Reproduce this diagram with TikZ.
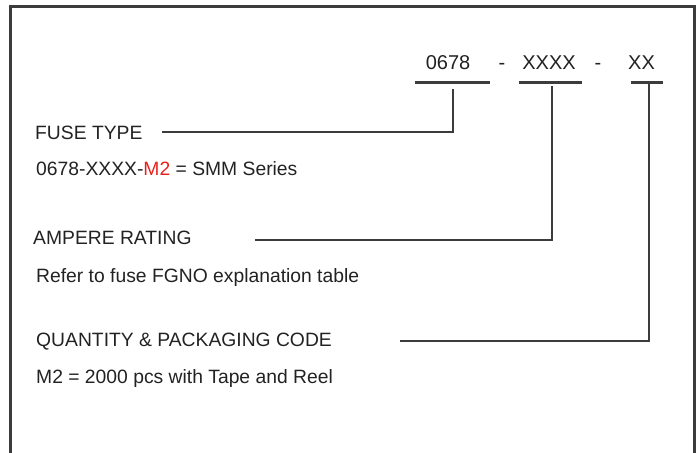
\documentclass[tikz,border=0pt]{standalone}
\usepackage{fontspec}
\setmainfont{Liberation Sans}
\definecolor{ink}{HTML}{222222}
\definecolor{linec}{HTML}{3C3C3C}
\definecolor{redm}{HTML}{E8231E}
\begin{document}
\begin{tikzpicture}[x=1pt,y=-1pt,
  txt/.style={anchor=base west, inner sep=0pt, font=\fontsize{19.3}{23}\selectfont, text=ink},
  hdr/.style={anchor=base, inner sep=0pt, font=\fontsize{20}{24}\selectfont, text=ink},
  bar/.style={line width=2.2pt, draw=linec},
  lead/.style={line width=2pt, draw=linec},
  frame/.style={line width=3pt, draw=linec}]
\useasboundingbox (0,0) rectangle (700,452);
\draw[frame] (10.5,470) -- (10.5,7) -- (694,7) -- (694,470);

% header
\node[hdr] (h1) at (448,69) {0678};
\node[hdr] (d1) at (502,69) {-};
\node[hdr] (h2) at (549,69) {XXXX};
\node[hdr] (d2) at (598,69) {-};
\node[hdr] (h3) at (641.5,69) {XX};

% bars
\coordinate (b1l) at (415,82.5);  \coordinate (b1r) at (490,82.5);
\coordinate (b2l) at (519,82.5);  \coordinate (b2r) at (582,82.5);
\coordinate (b3l) at (631,82.5);  \coordinate (b3r) at (663,82.5);
\draw[bar] (b1l) -- (b1r);
\draw[bar] (b2l) -- (b2r);
\draw[bar] (b3l) -- (b3r);

% labels
\node[txt] (ft) at (35,139) {FUSE TYPE};
\node[txt] (fts) at (36,175.7) {0678-XXXX-\textcolor{redm}{M2} = SMM Series};
\node[txt] (ar) at (33,244) {AMPERE RATING};
\node[txt] (ars) at (36,282.7) {Refer to fuse FGNO explanation table};
\node[txt] (qp) at (36,346) {QUANTITY \& PACKAGING CODE};
\node[txt] (qps) at (36,383) {M2 = 2000 pcs with Tape and Reel};

% leader lines
\coordinate (v1t) at (452.5,89);   \coordinate (l1) at (162,131.7);
\coordinate (v2t) at (551.7,86);   \coordinate (l2) at (255,239.5);
\coordinate (v3t) at (649.3,82.5); \coordinate (l3) at (400,340.5);
\draw[lead] (v1t) |- (l1);
\draw[lead] (v2t) |- (l2);
\draw[lead] (v3t) |- (l3);
\end{tikzpicture}
\end{document}
